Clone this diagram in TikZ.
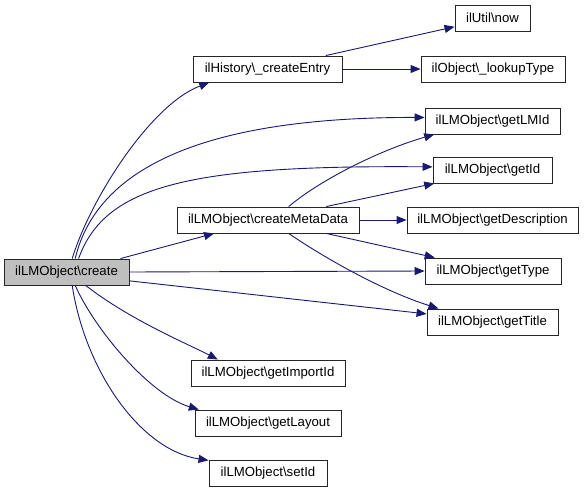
\documentclass[tikz,border=0pt]{standalone}
\usepackage{fontspec}
\setmainfont{Liberation Sans}
\usetikzlibrary{arrows.meta}
\definecolor{edgeblue}{HTML}{191970}
\definecolor{rootgray}{HTML}{BFBFBF}
\begin{document}
\begin{tikzpicture}[x=1pt,y=-1pt,
  box/.style={draw=black!85, line width=0.9pt, fill=white, inner sep=0pt, minimum height=26pt, font=\fontsize{13.2}{15}\selectfont},
  root/.style={box, fill=rootgray},
  call/.style={draw=edgeblue, line width=0.9pt, -{Triangle[length=10pt,width=8pt]}}]
\useasboundingbox (0,0) rectangle (584,493);
% nodes
\node[root, minimum width=125pt] (create) at (66.5,272) {ilLMObject\textbackslash create};
\node[box, minimum width=149pt] (entry) at (267.5,69) {ilHistory\textbackslash\_createEntry};
\node[box, minimum width=75pt] (now) at (492.5,18) {ilUtil\textbackslash now};
\node[box, minimum width=144pt] (lookup) at (493,69) {ilObject\textbackslash\_lookupType};
\node[box, minimum width=135pt] (lmid) at (492.5,121) {ilLMObject\textbackslash getLMId};
\node[box, minimum width=119pt] (getid) at (492.5,170) {ilLMObject\textbackslash getId};
\node[box, minimum width=171pt] (desc) at (492.5,220) {ilLMObject\textbackslash getDescription};
\node[box, minimum width=136pt] (type) at (493,271) {ilLMObject\textbackslash getType};
\node[box, minimum width=131pt] (title) at (492.5,322) {ilLMObject\textbackslash getTitle};
\node[box, minimum width=182pt] (meta) at (268,220) {ilLMObject\textbackslash createMetaData};
\node[box, minimum width=154pt] (import) at (268,373) {ilLMObject\textbackslash getImportId};
\node[box, minimum width=146pt] (layout) at (268,423) {ilLMObject\textbackslash getLayout};
\node[box, minimum width=118pt] (setid) at (268,473) {ilLMObject\textbackslash setId};
% edges from create
\draw[call] (create.67) .. controls (90,200) and (150,105) .. (entry.193);
\draw[call] (create.57) .. controls (95,175) and (190,117) .. (lmid.177);
\draw[call] (create.48) .. controls (105,185) and (190,165) .. (getid.177);
\draw[call] (create.14) -- (meta.194);
\draw[call] (create.east) -- (type.west);
\draw[call] (create.-8) -- (title.173);
\draw[call] (create.-35) .. controls (130,320) and (190,345) .. (import.165);
\draw[call] (create.-57) .. controls (95,330) and (150,395) .. (layout.169);
\draw[call] (create.-67) .. controls (85,370) and (140,450) .. (setid.168);
% edges from createEntry
\draw[call] (entry.13) -- (now.193);
\draw[call] (entry.east) -- (lookup.west);
% edges from createMetaData
\draw[call] (meta.33) .. controls (320,180) and (380,150) .. (lmid.193);
\draw[call] (meta.13) -- (getid.193);
\draw[call] (meta.east) -- (desc.west);
\draw[call] (meta.-13) -- (type.167);
\draw[call] (meta.-33) .. controls (320,255) and (380,290) .. (title.166);
\end{tikzpicture}
\end{document}
